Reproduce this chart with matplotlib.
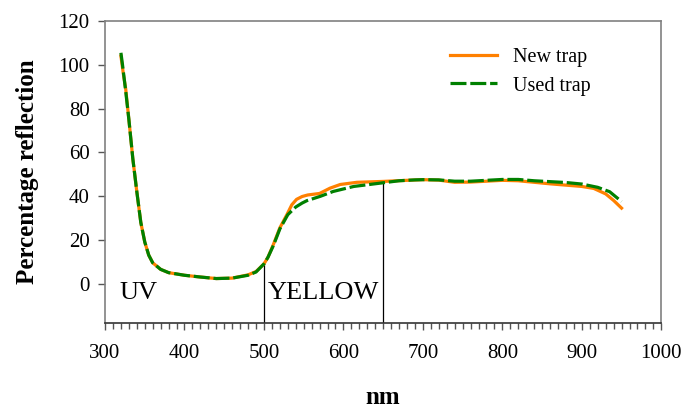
import numpy as np
import matplotlib
matplotlib.use("Agg")
import matplotlib.pyplot as plt
from matplotlib.ticker import MultipleLocator

plt.rcParams['font.family'] = ['Liberation Serif', 'DejaVu Serif']

# Reflection spectra (wavelength in nm, percentage reflection)
new_nm = [320, 323, 326, 330, 335, 340, 345, 350, 355, 360, 370, 380, 400, 420, 440,
          460, 480, 490, 500, 505, 512, 520, 529, 535, 541, 548, 555, 570, 583, 596,
          617, 650, 680, 700, 720, 740, 760, 780, 800, 820, 840, 860, 880, 900, 915,
          930, 940, 950]
new_trap = [104, 96, 89, 75, 57, 42, 28, 19, 13, 9.5, 6.5, 5, 3.8, 3, 2.3,
            2.5, 4, 5.5, 9, 12, 18, 25.5, 31.6, 36, 38.5, 39.8, 40.5, 41.2, 43.6, 45.3,
            46.3, 46.7, 47.2, 47.5, 47.3, 46.3, 46.4, 46.8, 47.2, 47.0, 46.3, 45.6, 45.0, 44.4, 43.5,
            41.0, 38.0, 34.5]

used_nm = [320, 322, 326, 330, 335, 340, 345, 350, 355, 360, 370, 380, 400, 420, 440,
           460, 480, 490, 500, 505, 512, 520, 530, 540, 548, 554, 571, 587, 613,
           646, 670, 690, 700, 720, 740, 760, 780, 800, 820, 840, 860, 880, 900,
           920, 935, 945, 950]
used_trap = [105.5, 100, 88, 75, 57, 42, 28, 19, 13, 9.5, 6.5, 5, 3.8, 3, 2.3,
             2.5, 3.8, 5.3, 9, 12, 17.5, 25, 31.5, 35, 36.8, 37.9, 39.9, 42.1, 44.4,
             45.9, 47.0, 47.4, 47.5, 47.4, 46.8, 46.8, 47.2, 47.6, 47.6, 47.0, 46.6, 46.2, 45.5,
             44.0, 42.0, 39.0, 37.5]

band_edges = [500, 650]
band_labels = ["UV", "YELLOW"]
band_label_x = [318, 505]
x_ticks = [300, 400, 500, 600, 700, 800, 900, 1000]
y_ticks = [0, 20, 40, 60, 80, 100, 120]

fig = plt.figure(figsize=(6.91, 4.13), dpi=100)
ax = fig.add_axes([0.152, 0.218, 0.805, 0.731])

ax.plot(new_nm, new_trap, color="#FF8000", lw=2.3, label="New trap", zorder=3)
ax.plot(used_nm, used_trap, color="#008000", lw=2.3, linestyle=(0, (5.0, 1.2)),
        label="Used trap", zorder=4)

ymin = -18
ax.set_xlim(300, 1000)
ax.set_ylim(ymin, 120)

# band separators run from the axis up to the spectrum
for edge in band_edges:
    top = np.interp(edge, new_nm, new_trap)
    ax.vlines(edge, ymin, top, color="black", lw=0.9, zorder=2)

for lab, xpos in zip(band_labels, band_label_x):
    ax.text(xpos, -4.5, lab, fontsize=19, va="center", ha="left", color="black")

ax.set_xticks(x_ticks)
ax.set_yticks(y_ticks)
ax.xaxis.set_minor_locator(MultipleLocator(10))
ax.tick_params(axis="both", which="major", direction="out", labelsize=15,
               length=5, width=1, color="#555555")
ax.tick_params(axis="x", which="major", pad=10)
ax.tick_params(axis="y", which="major", pad=6)
ax.tick_params(axis="x", which="minor", direction="out", length=4, width=1, color="#555555")

for side in ["left", "top", "right"]:
    ax.spines[side].set_color("#808080")
    ax.spines[side].set_linewidth(1.2)
ax.spines["bottom"].set_color("#333333")
ax.spines["bottom"].set_linewidth(1.2)

ax.set_ylabel("Percentage reflection", fontsize=18, fontweight="bold", labelpad=14)
ax.set_xlabel("nm", fontsize=18, fontweight="bold", labelpad=17)

ax.legend(loc="upper right", bbox_to_anchor=(0.905, 0.97), frameon=False, fontsize=14.5,
          handlelength=2.3, handletextpad=0.8, labelspacing=0.45)

fig.savefig("out.png", dpi=100)
